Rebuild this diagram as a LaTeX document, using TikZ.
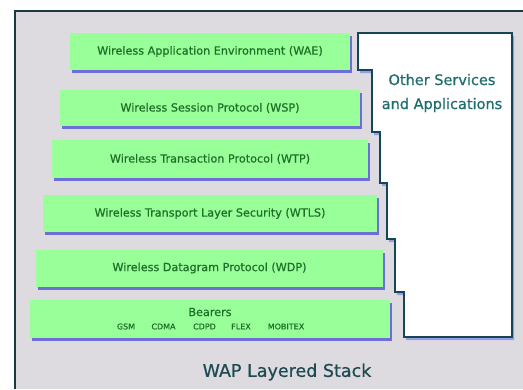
\documentclass[tikz,border=0pt]{standalone}
\usepackage{fontspec}
\setmainfont{DejaVu Sans}
\newfontfamily\heavyfont{DejaVu Sans}[FakeBold=0.7]
\usetikzlibrary{shadows}
\definecolor{panelgrey}{RGB}{221,219,223}
\definecolor{framec}{RGB}{26,58,66}
\definecolor{layergreen}{RGB}{153,255,153}
\definecolor{layertext}{RGB}{30,112,40}
\definecolor{shadowblue}{RGB}{110,110,215}
\definecolor{boxline}{RGB}{20,70,85}
\definecolor{othertext}{RGB}{30,110,110}
\definecolor{titletext}{RGB}{30,75,82}
\tikzset{
  layer/.style={rectangle, fill=layergreen, inner sep=0pt, text=layertext,
    font=\heavyfont\fontsize{11.2}{13}\selectfont,
    drop shadow={shadow xshift=2pt, shadow yshift=-3pt, fill=shadowblue, opacity=1}},
  bearer/.style={inner sep=0pt, text=layertext, font=\heavyfont\fontsize{8}{9}\selectfont},
}
\begin{document}
\begin{tikzpicture}[x=1pt,y=-1pt]
\useasboundingbox (0,0) rectangle (523,389);
\fill[white] (0,0) rectangle (523,389);
\fill[panelgrey] (15,11) rectangle (523,389);
\draw[framec, line width=1.5pt] (15,389) -- (15,11) -- (523,11);
% layers
\node[layer, minimum width=280pt, minimum height=37pt] (wae) at (210,51.5) {Wireless Application Environment (WAE)};
\node[layer, minimum width=300pt, minimum height=36pt] (wsp) at (210,108) {Wireless Session Protocol (WSP)};
\node[layer, minimum width=316pt, minimum height=38pt] (wtp) at (210,159) {Wireless Transaction Protocol (WTP)};
\node[layer, minimum width=334pt, minimum height=37pt] (wtls) at (210,213.5) {Wireless Transport Layer Security (WTLS)};
\node[layer, minimum width=347pt, minimum height=37pt] (wdp) at (209.5,268) {Wireless Datagram Protocol (WDP)};
\node[layer, minimum width=360pt, minimum height=38pt] (bear) at (210,319) {};
\node[inner sep=0pt, text=layertext, font=\heavyfont\fontsize{11.2}{13}\selectfont] (beart) at (210,312) {Bearers};
\node[bearer] (gsm) at (126,326.5) {GSM};
\node[bearer] (cdma) at (163.5,326.5) {CDMA};
\node[bearer] (cdpd) at (204.5,326.5) {CDPD};
\node[bearer] (flex) at (241,326.5) {FLEX};
\node[bearer] (mobitex) at (286,326.5) {MOBITEX};
% other services box
\fill[shadowblue!70] (360,36) -- (514,36) -- (514,340) -- (406,340) -- (406,295) -- (397,295) -- (397,242) -- (389,242) -- (389,186) -- (382,186) -- (382,135) -- (374,135) -- (374,73) -- (360,73) -- cycle;
\filldraw[fill=white, draw=boxline, line width=1.2pt] (358,33) -- (512,33) -- (512,337) -- (404,337) -- (404,292) -- (395,292) -- (395,239) -- (387,239) -- (387,183) -- (380,183) -- (380,132) -- (372,132) -- (372,70) -- (358,70) -- cycle;
\node[align=center, text=othertext, font=\heavyfont\fontsize{14.5}{24}\selectfont, inner sep=0pt] (other) at (442,93) {Other Services\\and Applications};
\node[text=titletext, font=\heavyfont\fontsize{17.5}{20}\selectfont, inner sep=0pt] (title) at (287,372) {WAP Layered Stack};
\end{tikzpicture}
\end{document}
